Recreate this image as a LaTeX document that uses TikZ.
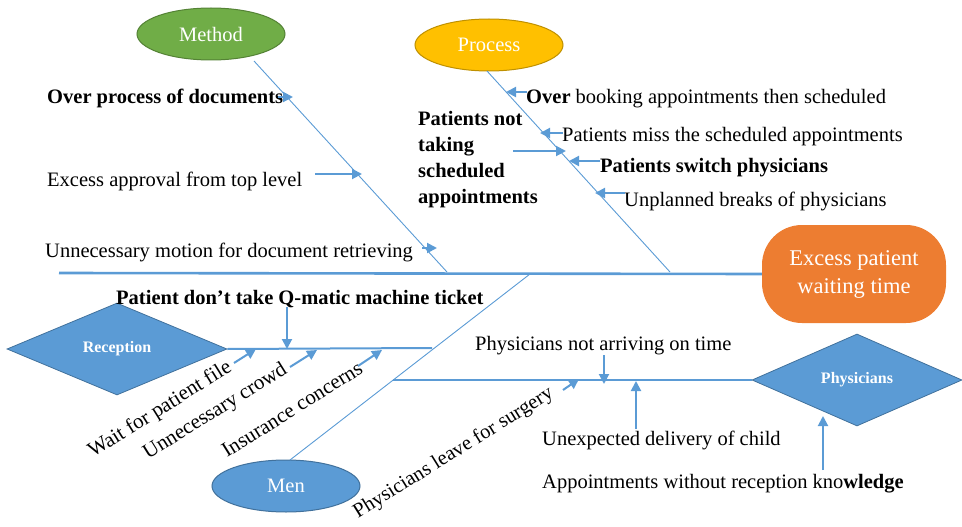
\documentclass[tikz,border=0pt]{standalone}
\usepackage{fontspec}
\setmainfont{Liberation Serif}
\usetikzlibrary{arrows.meta,shapes.geometric}

\definecolor{bone}{HTML}{5B9BD5}
\definecolor{boneedge}{HTML}{41719C}
\definecolor{methodfill}{HTML}{70AD47}
\definecolor{methodedge}{HTML}{548235}
\definecolor{processfill}{HTML}{FFC000}
\definecolor{processedge}{HTML}{BF9000}
\definecolor{headfill}{HTML}{ED7D31}

\begin{document}
\begin{tikzpicture}[x=1pt,y=-1pt,
  txt/.style={font=\fontsize{20.5}{24}\selectfont, inner sep=0pt, anchor=base west},
  btxt/.style={font=\fontsize{20.5}{24}\selectfont\bfseries, inner sep=0pt, anchor=base west},
  slant/.style={txt, font=\fontsize{21}{24}\selectfont, rotate=32},
  cat/.style={ellipse, line width=1pt, text=white, inner sep=0pt,
    minimum width=148pt, minimum height=52pt, font=\fontsize{20.5}{24}\selectfont},
  gate/.style={diamond, draw=boneedge, line width=0.8pt, fill=bone, text=white, inner sep=0pt,
    font=\fontsize{16}{18}\selectfont\bfseries},
  spine/.style={draw=bone, line width=2.6pt},
  rib/.style={draw=bone, line width=2pt},
  twig/.style={draw=bone, line width=0.9pt},
  cause/.style={draw=bone, line width=2pt, -{Triangle[length=10pt,width=10pt]}},
]
\useasboundingbox (0,0) rectangle (962,527);

% ---- category labels and the effect ----
\node[cat, fill=methodfill, draw=methodedge] (method) at (211,34) {Method};
\node[cat, fill=processfill, draw=processedge] (process) at (489,45) {Process};
\node[cat, fill=bone, draw=boneedge] (men) at (286,486) {Men};
\node[gate, minimum width=220pt, minimum height=92pt] (reception) at (117,349) {Reception};
\node[gate, minimum width=210pt, minimum height=92pt] (physicians) at (857,380) {Physicians};
\node[fill=headfill, rounded corners=40pt, minimum width=184pt, minimum height=98pt,
  text=white, align=center, font=\fontsize{22.5}{28}\selectfont] (head) at (854,274)
  {Excess patient\\waiting time};

% ---- skeleton ----
\coordinate (tail) at (59,273);
\coordinate (mtop) at (254,61);
\coordinate (mfoot) at (447,272);
\coordinate (ptop) at (487,71);
\coordinate (pfoot) at (670,272);
\coordinate (nfoot) at (290,460);
\coordinate (ntop) at (530,274);
\coordinate (rend) at (432,348);
\coordinate (phstart) at (393,380);

\draw[spine] (tail) -- (head.west);
\draw[twig] (mtop) -- (mfoot);
\draw[twig] (ptop) -- (pfoot);
\draw[twig] (nfoot) -- (ntop);
\draw[rib] (reception.east) -- (rend);
\draw[rib] (phstart) -- (physicians.west);

% ---- Method causes ----
\node[btxt] (m1) at (47,103) {Over process of documents};
\node[txt] (m2) at (47,186) {Excess approval from top level};
\node[txt] (m3) at (45,257) {Unnecessary motion for document retrieving};
\coordinate (m1a) at (278,97);  \coordinate (m1b) at (293,97);
\coordinate (m2a) at (315,174); \coordinate (m2b) at (362,174);
\coordinate (m3a) at (422,248); \coordinate (m3b) at (437,248);
\draw[cause] (m1a) -- (m1b);
\draw[cause] (m2a) -- (m2b);
\draw[cause] (m3a) -- (m3b);

% ---- Process causes ----
\node[txt] (p1) at (526,103) {\textbf{Over} booking appointments then scheduled};
\node[txt] (p2) at (562,142) {Patients miss the scheduled appointments};
\node[btxt] (p3) at (600,172) {Patients switch physicians};
\node[txt] (p4) at (624,206) {Unplanned breaks of physicians};
\node[btxt, align=left, font=\fontsize{20.5}{25.7}\selectfont\bfseries] (p5) at (418,203)
  {Patients not\\taking\\scheduled\\appointments};
\coordinate (p1a) at (527,92);  \coordinate (p1b) at (506,92);
\coordinate (p2a) at (563,133); \coordinate (p2b) at (540,133);
\coordinate (p3a) at (600,161); \coordinate (p3b) at (569,161);
\coordinate (p4a) at (625,193); \coordinate (p4b) at (595,193);
\coordinate (p5a) at (513,151); \coordinate (p5b) at (566,151);
\draw[cause] (p1a) -- (p1b);
\draw[cause] (p2a) -- (p2b);
\draw[cause] (p3a) -- (p3b);
\draw[cause] (p4a) -- (p4b);
\draw[cause] (p5a) -- (p5b);

% ---- Reception causes ----
\node[btxt] (r0) at (116,304) {Patient don’t take Q-matic machine ticket};
\node[slant] (r1) at (93,458) {Wait for patient file};
\node[slant] (r2) at (148,460) {Unnecessary crowd};
\node[slant] (r3) at (227,458) {Insurance concerns};
\coordinate (r0a) at (287,307); \coordinate (r0b) at (287,349);
\coordinate (r1a) at (234,363); \coordinate (r1b) at (256,349);
\coordinate (r2a) at (290,367); \coordinate (r2b) at (317,350);
\coordinate (r3a) at (358,366); \coordinate (r3b) at (382,350);
\draw[cause] (r0a) -- (r0b);
\draw[cause] (r1a) -- (r1b);
\draw[cause] (r2a) -- (r2b);
\draw[cause] (r3a) -- (r3b);

% ---- Physicians causes ----
\node[txt] (h1) at (475,350) {Physicians not arriving on time};
\node[txt] (h2) at (542,445) {Unexpected delivery of child};
\node[txt] (h3) at (542,488) {Appointments without reception kno\textbf{wledge}};
\node[slant, font=\fontsize{20.5}{24}\selectfont] (h4) at (358,519) {Physicians leave for surgery};
\coordinate (h1a) at (604,355); \coordinate (h1b) at (604,384);
\coordinate (h2a) at (636,429); \coordinate (h2b) at (636,381);
\coordinate (h3a) at (823,470); \coordinate (h3b) at (823,416);
\coordinate (h4a) at (563,390); \coordinate (h4b) at (579,379);
\draw[cause] (h1a) -- (h1b);
\draw[cause] (h2a) -- (h2b);
\draw[cause] (h3a) -- (h3b);
\draw[cause] (h4a) -- (h4b);
\end{tikzpicture}
\end{document}
